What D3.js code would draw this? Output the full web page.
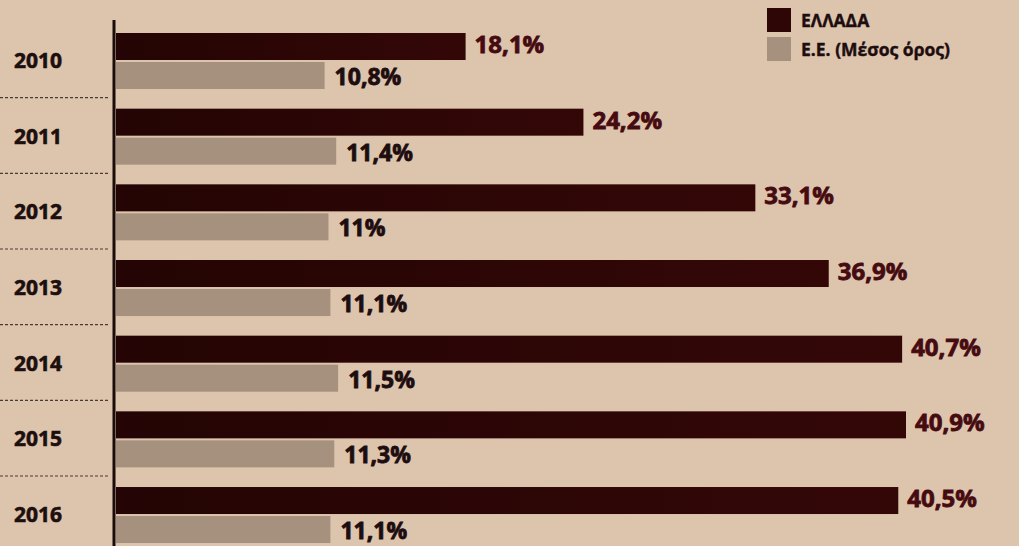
<!DOCTYPE html>
<html>
<head>
<meta charset="utf-8">
<script src="https://cdn.jsdelivr.net/npm/d3@7"></script>
<style>
  html, body { margin: 0; padding: 0; background: #dcc4ad; }
  svg { display: block; font-family: "Open Sans", "DejaVu Sans", sans-serif; }
</style>
</head>
<body>
<svg id="chart"></svg>
<script>
// Chart data.
const years = ["2010", "2011", "2012", "2013", "2014", "2015", "2016"];
const greece = [18.1, 24.2, 33.1, 36.9, 40.7, 40.9, 40.5];
const euAvg = [10.8, 11.4, 11, 11.1, 11.5, 11.3, 11.1];
const legendLabels = ["ΕΛΛΑΔΑ", "Ε.Ε. (Μέσος όρος)"];

const width = 1019, height = 546;
const svg = d3.select("#chart")
    .attr("width", width)
    .attr("height", height);

// Background paper colour.
svg.append("rect")
    .attr("width", width)
    .attr("height", height)
    .attr("fill", "#dcc4ad");

// Gradient for the dark Greece bars.
const defs = svg.append("defs");
const grad = defs.append("linearGradient")
    .attr("id", "gr-grad")
    .attr("x1", "0%").attr("x2", "100%")
    .attr("y1", "0%").attr("y2", "0%");
grad.append("stop").attr("offset", "0%").attr("stop-color", "#240404");
grad.append("stop").attr("offset", "100%").attr("stop-color", "#340707");

// Scales.
const x = d3.scaleLinear()
    .domain([0, 40.9])
    .range([116, 906]);
const y = d3.scaleBand()
    .domain(years)
    .range([22, 22 + 7 * 75.67]);

const fmt = v => String(v).replace(".", ",") + "%";

// Dashed separators between years (left of axis).
svg.append("g").selectAll("line")
    .data(years.slice(0, -1))
    .enter()
    .append("line")
    .attr("x1", 0)
    .attr("x2", 110)
    .attr("y1", d => y(d) + y.bandwidth())
    .attr("y2", d => y(d) + y.bandwidth())
    .attr("stroke", "#4a3a34")
    .attr("stroke-width", 1.2)
    .attr("stroke-dasharray", "3,2");

// Year labels.
svg.append("g").selectAll("text")
    .data(years)
    .enter()
    .append("text")
    .attr("x", 14)
    .attr("y", d => y(d) + 46)
    .attr("font-size", 21)
    .attr("font-weight", 700)
    .attr("fill", "#1c0f0e")
    .attr("stroke", "#1c0f0e")
    .attr("stroke-width", 0.6)
    .text(d => d);

// Greece bars.
const rows = years.map((yr, i) => ({ year: yr, gr: greece[i], eu: euAvg[i] }));

svg.append("g").selectAll("rect")
    .data(rows)
    .enter()
    .append("rect")
    .attr("x", x(0))
    .attr("y", d => y(d.year) + 11)
    .attr("width", d => x(d.gr) - x(0))
    .attr("height", 27)
    .attr("fill", "url(#gr-grad)");

// EU average bars.
svg.append("g").selectAll("rect")
    .data(rows)
    .enter()
    .append("rect")
    .attr("x", x(0))
    .attr("y", d => y(d.year) + 40)
    .attr("width", d => x(d.eu) - x(0))
    .attr("height", 27)
    .attr("fill", "#a6917f");

// Value labels.
svg.append("g").selectAll("text")
    .data(rows)
    .enter()
    .append("text")
    .attr("x", d => x(d.gr) + 9)
    .attr("y", d => y(d.year) + 31)
    .attr("font-size", 24)
    .attr("font-weight", 700)
    .attr("fill", "#460b10")
    .attr("stroke", "#460b10")
    .attr("stroke-width", 0.8)
    .text(d => fmt(d.gr));

svg.append("g").selectAll("text")
    .data(rows)
    .enter()
    .append("text")
    .attr("x", d => x(d.eu) + 10)
    .attr("y", d => y(d.year) + 63)
    .attr("font-size", 23)
    .attr("font-weight", 700)
    .attr("fill", "#1e0d0f")
    .attr("stroke", "#1e0d0f")
    .attr("stroke-width", 0.8)
    .text(d => fmt(d.eu));

// Vertical axis line.
svg.append("line")
    .attr("x1", 114).attr("x2", 114)
    .attr("y1", 20).attr("y2", height)
    .attr("stroke", "#1a0c0a")
    .attr("stroke-width", 3);

// Legend.
const legend = svg.append("g").attr("transform", "translate(767,8)");
const legendColors = ["#2e0606", "#a6917f"];
legend.selectAll("rect")
    .data(legendLabels)
    .enter()
    .append("rect")
    .attr("x", 0)
    .attr("y", (d, i) => i * 29)
    .attr("width", 24)
    .attr("height", 24)
    .attr("fill", (d, i) => legendColors[i]);
legend.selectAll("text")
    .data(legendLabels)
    .enter()
    .append("text")
    .attr("x", 34)
    .attr("y", (d, i) => i * 29 + 19)
    .attr("font-size", 17.5)
    .attr("font-weight", 700)
    .attr("fill", "#1e0d0f")
    .attr("stroke", "#1e0d0f")
    .attr("stroke-width", 0.4)
    .text(d => d);
</script>
</body>
</html>
